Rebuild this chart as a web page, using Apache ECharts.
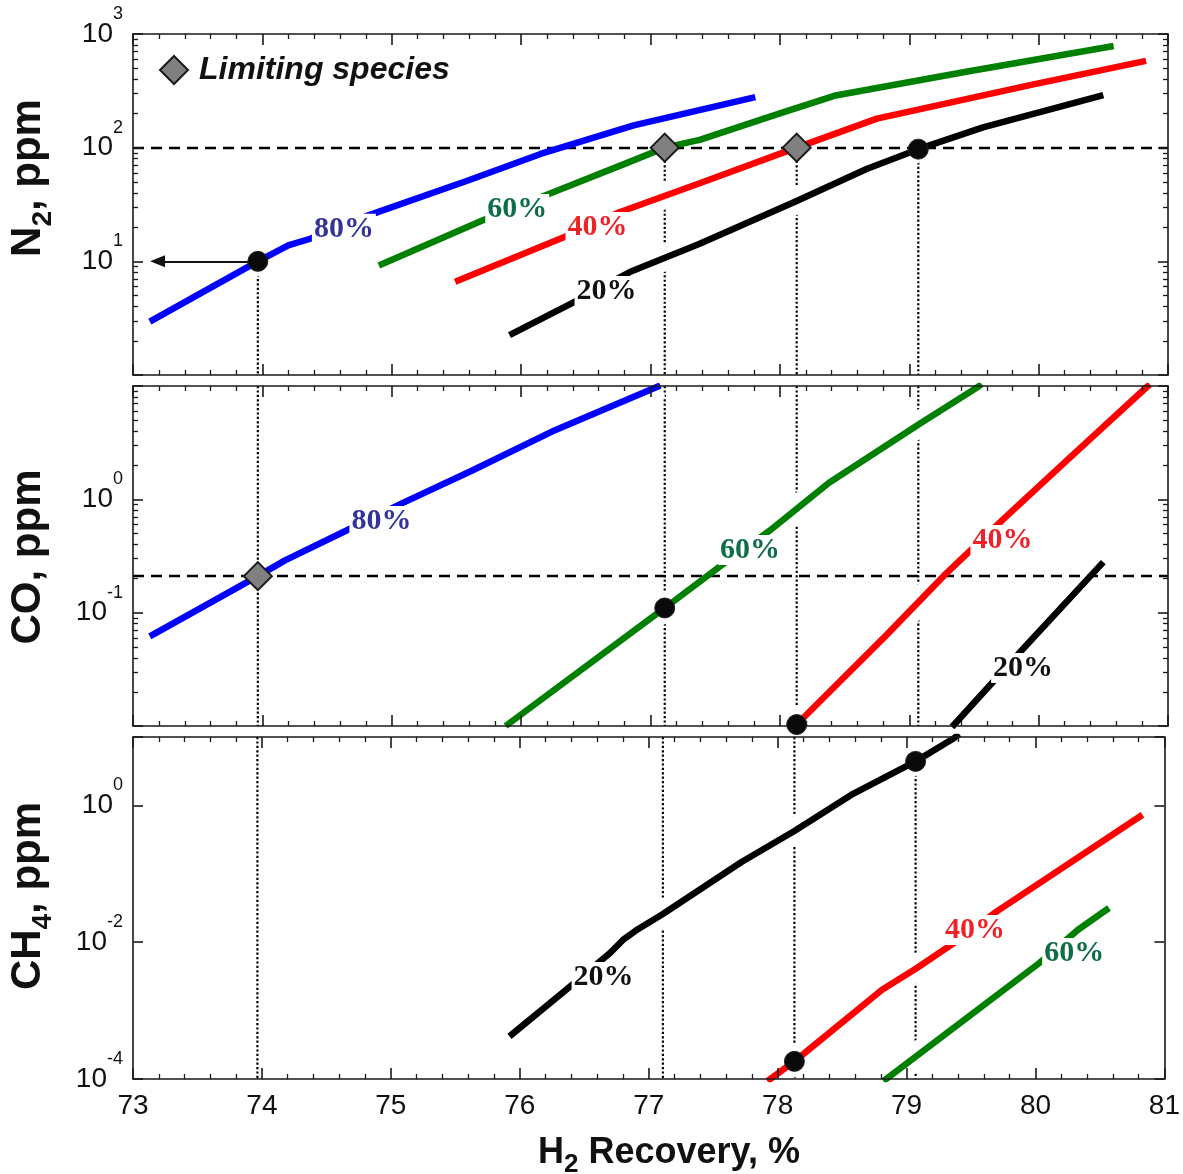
<!DOCTYPE html>
<html>
<head>
<meta charset="utf-8">
<script src="https://cdn.jsdelivr.net/npm/echarts@6/dist/echarts.min.js"></script>
<style>
  html, body { margin: 0; padding: 0; background: #fff; }
  #chart { width: 1183px; height: 1174px; }
</style>
</head>
<body>
<div id="chart"></div>
<script>
// Impurity level in the H2 product vs. H2 recovery, for four purge levels.
const X_RANGE = [73, 81];
const CURVE_NAMES = ['80%', '60%', '40%', '20%'];
const CURVE_COLORS = ['#0000ff', '#008000', '#ff0000', '#000000'];
const LABEL_COLORS = ['#333399', '#0f6e47', '#ee2228', '#111111'];

// N2 panel, [H2 recovery %, ppm]
const N2_80 = [[73.13, 2.95], [73.965, 10], [74.2, 13.8], [74.37, 15.8], [74.82, 25.4], [75.6, 52], [76.15, 88], [76.87, 157], [77.81, 278]];
const N2_60 = [[74.9, 9.2], [75.7, 22.9], [76.15, 36.6], [76.8, 72], [77.11, 100], [77.38, 117], [78.0, 200], [78.42, 286], [79.44, 466], [80.58, 785]];
const N2_40 = [[75.49, 6.6], [76.33, 16.3], [76.76, 27], [77.38, 48.6], [78.13, 100], [78.75, 180], [79.96, 360], [80.83, 580]];
const N2_20 = [[75.91, 2.24], [76.39, 4.26], [76.84, 8.05], [77.38, 14.3], [78.13, 34], [78.67, 65], [79.07, 97], [79.57, 151], [80.5, 290]];

// CO panel
const CO_80 = [[73.13, 0.0617], [73.965, 0.21], [74.175, 0.289], [74.646, 0.528], [75.09, 0.935], [75.61, 1.77], [76.266, 4.1], [77.076, 10.1]];
const CO_60 = [[75.88, 0.01], [77.11, 0.11], [77.545, 0.26], [77.937, 0.547], [78.38, 1.4], [79.087, 4.69], [79.53, 9.8], [79.56, 10.4]];
const CO_40 = [[78.13, 0.0103], [78.825, 0.0637], [79.27, 0.213], [79.74, 0.69], [80.21, 2.16], [80.836, 9.8], [80.86, 10.3]];
const CO_20 = [[79.33, 0.0098], [79.9, 0.0508], [80.5, 0.279]];

// CH4 panel
const CH4_20 = [[75.92, 4.2e-4], [76.36, 2.02e-3], [76.7, 6.95e-3], [76.8, 0.0108], [76.9, 0.0148], [77.11, 0.0258], [77.72, 0.149], [78.13, 0.423], [78.57, 1.42], [79.07, 4.4], [79.37, 9.7], [79.41, 11]];
const CH4_40 = [[77.92, 9.3e-5], [78.13, 1.81e-4], [78.81, 2.02e-3], [79.08, 4.2e-3], [79.37, 0.0098], [79.7, 0.0282], [80.83, 0.73]];
const CH4_60 = [[78.82, 9.3e-5], [80.03, 4.96e-3], [80.33, 0.0152], [80.57, 0.0316]];

// Purity specifications (ppm)
const N2_LIMIT = 100;
const CO_LIMIT = 0.21;

// Operating points: limiting species (diamonds) and the other species at the same recovery (dots)
const N2_DIAMONDS = [[77.11, 100], [78.13, 100]];
const N2_DOTS = [[73.965, 10], [79.07, 97]];
const CO_DIAMONDS = [[73.965, 0.21]];
const CO_DOTS = [[77.11, 0.11], [78.13, 0.0103]];
const CH4_DOTS = [[79.07, 4.4], [78.13, 1.81e-4]];

// Vertical guides through the operating points
const GUIDE_X = [73.965, 77.11, 78.13, 79.07];
const N2_GUIDE_TOP = [10, 100, 100, 97];
const CH4_GUIDE_TOP = [10, 10, 10, 4.4];

// Arrow pointing to the N2 axis
const ARROW = [[73.965, 10], [73.19, 10]];

// Curve label anchors (same order as CURVE_NAMES)
const N2_LABEL_AT = [[74.63, 19.3], [75.97, 28.9], [76.59, 20.0], [76.66, 5.48]];
const CO_LABEL_AT = [[74.92, 0.644], [77.77, 0.357], [79.72, 0.438], [79.88, 0.0325]];
const CH4_LABEL_AT = [null, [80.30, 0.00695], [79.53, 0.01507], [76.65, 0.0031]];

// Y axis ranges and labelled decades
const Y_RANGES = [[1, 1000], [0.01, 10], [1e-4, 10]];
const Y_LABEL_EXP = [[1, 2, 3], [0, -1], [0, -2, -4]];

const FONT = "'Liberation Sans', Arial, Helvetica, sans-serif";
const SERIF = "'Liberation Serif', 'Times New Roman', serif";
const INK = '#111';

// Guides live on the bottom layer, everything else on the layer above,
// so the white band under each curve cuts the guides where they cross.
const GUIDE_LAYER = 0;
const PLOT_LAYER = 1;

const GRIDS = [
  { left: 133, top: 34, width: 1035, height: 341 },
  { left: 133, top: 386, width: 1035, height: 340 },
  { left: 133, top: 737, width: 1035, height: 342 }
];

const frameLine = { color: '#1a1a1a', width: 1.6 };

function xAxisFor(g, pos, showLabels) {
  return {
    type: 'value', gridIndex: g, position: pos,
    min: X_RANGE[0], max: X_RANGE[1], interval: 1, zlevel: PLOT_LAYER, z: 5,
    axisLine: { show: true, onZero: false, lineStyle: frameLine },
    axisTick: { show: true, inside: true, length: 11, lineStyle: frameLine },
    minorTick: { show: true, splitNumber: 5, length: 5, lineStyle: { color: '#1a1a1a', width: 1.3 } },
    splitLine: { show: false }, minorSplitLine: { show: false },
    axisLabel: { show: showLabels, margin: 13, fontSize: 28, color: INK, fontFamily: FONT }
  };
}

function yAxisFor(g, pos) {
  const exps = Y_LABEL_EXP[g];
  const ax = {
    type: 'log', logBase: 10, gridIndex: g, position: pos,
    min: Y_RANGES[g][0], max: Y_RANGES[g][1], zlevel: PLOT_LAYER, z: 5,
    axisLine: { show: true, onZero: false, lineStyle: frameLine },
    axisTick: { show: true, inside: true, length: 10, lineStyle: frameLine },
    minorTick: { show: g !== 2, splitNumber: 9, length: 5, lineStyle: { color: '#1a1a1a', width: 1.3 } },
    splitLine: { show: false }, minorSplitLine: { show: false },
    axisLabel: {
      show: pos === 'left', margin: 10,
      formatter: function (v) {
        const e = Math.round(Math.log10(v));
        return exps.indexOf(e) >= 0 ? '{b|10}{s|' + e + '}' : '';
      },
      rich: {
        b: { fontSize: 28, lineHeight: 28, fontFamily: FONT, color: INK },
        s: { fontSize: 18, lineHeight: 18, fontFamily: FONT, color: INK, padding: [0, 0, 40, 0] }
      }
    }
  };
  if (g === 2) ax.interval = 2;
  return ax;
}

const xAxes = [], yAxes = [];
for (let g = 0; g < 3; g++) {
  xAxes.push(xAxisFor(g, 'bottom', g === 2));
  xAxes.push(xAxisFor(g, 'top', false));
  yAxes.push(yAxisFor(g, 'left'));
  yAxes.push(yAxisFor(g, 'right'));
}

const series = [];
const onGrid = g => ({ xAxisIndex: 2 * g, yAxisIndex: 2 * g });

function addCurves(g, curves) {
  curves.forEach((data, i) => {
    if (!data) return;
    // white band under the curve
    series.push(Object.assign({
      type: 'line', data: data, symbol: 'none', silent: true, zlevel: PLOT_LAYER, z: 2,
      lineStyle: { color: '#ffffff', width: 26, opacity: 1 }
    }, onGrid(g)));
    series.push(Object.assign({
      type: 'line', name: CURVE_NAMES[i], data: data, symbol: 'none', silent: true, zlevel: PLOT_LAYER, z: 4,
      lineStyle: { color: CURVE_COLORS[i], width: 6.5 }
    }, onGrid(g)));
  });
}

function addGuides(g, tops, bottom) {
  GUIDE_X.forEach((x, i) => {
    series.push(Object.assign({
      type: 'line', data: [[x, tops[i]], [x, bottom]], symbol: 'none', silent: true,
      zlevel: GUIDE_LAYER, z: 1,
      lineStyle: { color: '#000', width: 2.2, type: [2.2, 2.2] }
    }, onGrid(g)));
  });
}

function addLimit(g, value) {
  series.push(Object.assign({
    type: 'line', data: [], symbol: 'none', silent: true, zlevel: PLOT_LAYER, z: 3,
    markLine: {
      zlevel: PLOT_LAYER, z: 3,
      silent: true, symbol: ['none', 'none'], label: { show: false }, animation: false,
      lineStyle: { color: '#000', width: 2.3, type: [11, 7] },
      data: [{ yAxis: value }]
    }
  }, onGrid(g)));
}

function addLabels(g, anchors) {
  const data = [];
  anchors.forEach((p, i) => {
    if (!p) return;
    data.push({ name: CURVE_NAMES[i], value: p, label: { color: LABEL_COLORS[i] } });
  });
  series.push(Object.assign({
    type: 'scatter', data: data, symbolSize: 1, silent: true, zlevel: PLOT_LAYER, z: 6,
    itemStyle: { color: 'rgba(255,255,255,0)', opacity: 1 },
    label: {
      show: true, position: 'inside', formatter: '{b}', opacity: 1,
      fontFamily: SERIF, fontWeight: 'bold', fontSize: 30,
      backgroundColor: '#ffffff', padding: [0, 2]
    }
  }, onGrid(g)));
}

function addDiamonds(g, data) {
  series.push(Object.assign({
    type: 'scatter', name: 'Limiting species', data: data, symbol: 'diamond', symbolSize: 28,
    silent: true, zlevel: PLOT_LAYER, z: 10,
    itemStyle: { color: '#808080', borderColor: '#1a1a1a', borderWidth: 2, opacity: 1 }
  }, onGrid(g)));
}

function addDots(g, data) {
  series.push(Object.assign({
    type: 'scatter', name: 'Operating point', data: data, symbol: 'circle', symbolSize: 20,
    silent: true, zlevel: PLOT_LAYER, z: 10,
    itemStyle: { color: '#0a0a0a', borderColor: '#222', borderWidth: 1, opacity: 1 }
  }, onGrid(g)));
}

// N2 panel
addGuides(0, N2_GUIDE_TOP, Y_RANGES[0][0]);
addCurves(0, [N2_80, N2_60, N2_40, N2_20]);
addLimit(0, N2_LIMIT);
series.push(Object.assign({
  type: 'line', data: [], symbol: 'none', silent: true, zlevel: PLOT_LAYER, z: 4,
  markLine: {
    zlevel: PLOT_LAYER, z: 4,
    silent: true, symbol: ['none', 'triangle'], symbolSize: [12, 15], label: { show: false }, animation: false,
    lineStyle: { color: INK, width: 2, type: 'solid' },
    data: [[{ coord: ARROW[0] }, { coord: ARROW[1] }]]
  }
}, onGrid(0)));
addLabels(0, N2_LABEL_AT);
addDots(0, N2_DOTS);
addDiamonds(0, N2_DIAMONDS);

// CO panel
addGuides(1, GUIDE_X.map(() => Y_RANGES[1][1]), Y_RANGES[1][0]);
addCurves(1, [CO_80, CO_60, CO_40, CO_20]);
addLimit(1, CO_LIMIT);
addLabels(1, CO_LABEL_AT);
addDots(1, CO_DOTS);
addDiamonds(1, CO_DIAMONDS);

// CH4 panel
addGuides(2, CH4_GUIDE_TOP, Y_RANGES[2][0]);
addCurves(2, [null, CH4_60, CH4_40, CH4_20]);
addLabels(2, CH4_LABEL_AT);
addDots(2, CH4_DOTS);

function titleText(x, y, rot, parts, size, subSize, subDrop) {
  return {
    type: 'text', x: x, y: y, rotation: rot, z: 20,
    style: {
      text: parts,
      align: 'center', verticalAlign: 'middle',
      rich: {
        m: { fontSize: size, fontWeight: 'bold', fontFamily: FONT, fill: INK },
        s: { fontSize: subSize, fontWeight: 'bold', fontFamily: FONT, fill: INK, padding: [subDrop, 0, 0, 0] }
      }
    }
  };
}

const option = {
  animation: false,
  backgroundColor: '#fff',
  grid: GRIDS,
  xAxis: xAxes,
  yAxis: yAxes,
  legend: {
    data: [{ name: 'Limiting species', icon: 'diamond' }],
    left: 154, top: 49, itemWidth: 28, itemHeight: 28, selectedMode: false,
    itemStyle: { color: '#808080', borderColor: '#1a1a1a', borderWidth: 2 },
    textStyle: { fontFamily: FONT, fontSize: 32, fontWeight: 'bold', fontStyle: 'italic', color: INK, padding: [0, 0, 0, 6] }
  },
  graphic: [
    titleText(28, 178, Math.PI / 2, '{m|N}{s|2}{m|, ppm}', 42, 28, 30),
    titleText(28, 557, Math.PI / 2, '{m|CO, ppm}', 42, 28, 30),
    titleText(28, 896, Math.PI / 2, '{m|CH}{s|4}{m|, ppm}', 42, 28, 30),
    titleText(669, 1153, 0, '{m|H}{s|2}{m| Recovery, %}', 36, 26, 24)
  ],
  series: series
};

const chart = echarts.init(document.getElementById('chart'), null, { renderer: 'canvas' });
chart.setOption(option);
</script>
</body>
</html>
